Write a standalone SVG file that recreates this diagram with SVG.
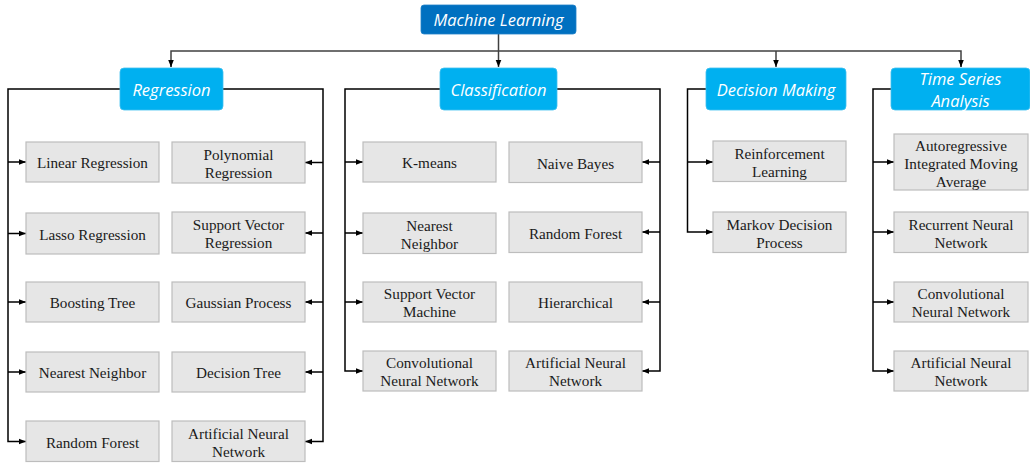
<svg xmlns="http://www.w3.org/2000/svg" width="1030" height="463" viewBox="0 0 1030 463">
<style>
.hd{fill:#00B0F0;stroke:#3FC0F0;stroke-width:0.8}
.root{fill:#0070C0;stroke:#1F80C8;stroke-width:0.8}
.ht{font-family:"Open Sans",sans-serif;font-style:italic;font-size:16.5px;fill:#fff;text-anchor:middle;dominant-baseline:central}
.bx{fill:#E6E6E6;stroke:#BDBDBD;stroke-width:1.2}
.bt{font-family:"Liberation Serif",serif;font-size:15.2px;fill:#1a1a1a;text-anchor:middle;dominant-baseline:central}
.ln{fill:none;stroke:#000;stroke-width:1.5}
.tl{fill:none;stroke:#404040;stroke-width:1.5}
</style>
<defs>
<marker id="ar" viewBox="0 0 10 10" refX="10" refY="5" markerWidth="7" markerHeight="7" markerUnits="userSpaceOnUse" orient="auto">
<path d="M0,1 L10,5 L0,9 z" fill="#000"/>
</marker>
</defs>
<rect width="1030" height="463" fill="#fff"/>
<g id="connectors">
<path class="tl" d="M498.5,34 V67" marker-end="url(#ar)"/>
<path class="tl" d="M171,67 V51 H961 V67" />
<path class="tl" d="M171,60 V67" marker-end="url(#ar)"/>
<path class="tl" d="M961,60 V67" marker-end="url(#ar)"/>
<path class="tl" d="M776,51 V67" marker-end="url(#ar)"/>
<path class="ln" d="M120,89 H8 V441.5 H26" marker-end="url(#ar)"/>
<path class="ln" d="M8,162 H26" marker-end="url(#ar)"/>
<path class="ln" d="M8,233.5 H26" marker-end="url(#ar)"/>
<path class="ln" d="M8,302 H26" marker-end="url(#ar)"/>
<path class="ln" d="M8,372 H26" marker-end="url(#ar)"/>
<path class="ln" d="M223,89 H323 V441.5 H305" marker-end="url(#ar)"/>
<path class="ln" d="M323,162.5 H305" marker-end="url(#ar)"/>
<path class="ln" d="M323,233 H305" marker-end="url(#ar)"/>
<path class="ln" d="M323,302 H305" marker-end="url(#ar)"/>
<path class="ln" d="M323,372 H305" marker-end="url(#ar)"/>
<path class="ln" d="M440,89 H345 V371 H363" marker-end="url(#ar)"/>
<path class="ln" d="M345,162 H363" marker-end="url(#ar)"/>
<path class="ln" d="M345,233 H363" marker-end="url(#ar)"/>
<path class="ln" d="M345,302 H363" marker-end="url(#ar)"/>
<path class="ln" d="M557,89 H660 V371 H642" marker-end="url(#ar)"/>
<path class="ln" d="M660,162 H642" marker-end="url(#ar)"/>
<path class="ln" d="M660,232 H642" marker-end="url(#ar)"/>
<path class="ln" d="M660,302 H642" marker-end="url(#ar)"/>
<path class="ln" d="M706,89 H687.5 V232 H713" marker-end="url(#ar)"/>
<path class="ln" d="M687.5,162 H713" marker-end="url(#ar)"/>
<path class="ln" d="M891,89 H873 V371 H894" marker-end="url(#ar)"/>
<path class="ln" d="M873,162 H894" marker-end="url(#ar)"/>
<path class="ln" d="M873,232 H894" marker-end="url(#ar)"/>
<path class="ln" d="M873,302 H894" marker-end="url(#ar)"/>
</g>
<g id="ml"><rect class="root" x="421" y="5" width="155" height="29" rx="3"/><text class="ht" x="498.5" y="19.5">Machine Learning</text></g>
<g id="regression"><rect class="hd" x="120" y="68" width="103" height="42" rx="4"/><text class="ht" x="171.5" y="89">Regression</text></g>
<g id="classification"><rect class="hd" x="440" y="68" width="117" height="42" rx="4"/><text class="ht" x="498.5" y="89">Classification</text></g>
<g id="decision"><rect class="hd" x="706" y="68" width="140" height="42" rx="4"/><text class="ht" x="776" y="89">Decision Making</text></g>
<g id="timeseries"><rect class="hd" x="891" y="68" width="139" height="42" rx="4"/><text class="ht" x="960.5" y="78">Time Series</text><text class="ht" x="960.5" y="100">Analysis</text></g>

<g id="r1"><rect class="bx" x="26" y="142" width="133" height="40"/><text class="bt" x="92.5" y="162.5">Linear Regression</text></g>
<g id="r2"><rect class="bx" x="172" y="142" width="133" height="41"/><text class="bt" x="238.5" y="154">Polynomial</text><text class="bt" x="238.5" y="172">Regression</text></g>
<g id="r3"><rect class="bx" x="26" y="213" width="133" height="41"/><text class="bt" x="92.5" y="234.5">Lasso Regression</text></g>
<g id="r4"><rect class="bx" x="172" y="212" width="133" height="41"/><text class="bt" x="238.5" y="224.5">Support Vector</text><text class="bt" x="238.5" y="242.5">Regression</text></g>
<g id="r5"><rect class="bx" x="26" y="282" width="133" height="40"/><text class="bt" x="92.5" y="302.5">Boosting Tree</text></g>
<g id="r6"><rect class="bx" x="172" y="282" width="133" height="40"/><text class="bt" x="238.5" y="302.5">Gaussian Process</text></g>
<g id="r7"><rect class="bx" x="26" y="352" width="133" height="40"/><text class="bt" x="92.5" y="372.5">Nearest Neighbor</text></g>
<g id="r8"><rect class="bx" x="172" y="352" width="133" height="40"/><text class="bt" x="238.5" y="372.5">Decision Tree</text></g>
<g id="r9"><rect class="bx" x="26" y="421" width="133" height="40.5"/><text class="bt" x="92.5" y="442">Random Forest</text></g>
<g id="r10"><rect class="bx" x="172" y="421" width="133" height="40.5"/><text class="bt" x="238.5" y="433">Artificial Neural</text><text class="bt" x="238.5" y="451">Network</text></g>

<g id="c1"><rect class="bx" x="363" y="142" width="133" height="40"/><text class="bt" x="429.5" y="162.5">K-means</text></g>
<g id="c2"><rect class="bx" x="509" y="142" width="133" height="40.5"/><text class="bt" x="575.5" y="163">Naive Bayes</text></g>
<g id="c3"><rect class="bx" x="363" y="213" width="133" height="40.5"/><text class="bt" x="429.5" y="225">Nearest</text><text class="bt" x="429.5" y="243">Neighbor</text></g>
<g id="c4"><rect class="bx" x="509" y="212" width="133" height="40.5"/><text class="bt" x="575.5" y="233">Random Forest</text></g>
<g id="c5"><rect class="bx" x="363" y="282" width="133" height="40"/><text class="bt" x="429.5" y="293.5">Support Vector</text><text class="bt" x="429.5" y="311.5">Machine</text></g>
<g id="c6"><rect class="bx" x="509" y="282" width="133" height="40"/><text class="bt" x="575.5" y="302.5">Hierarchical</text></g>
<g id="c7"><rect class="bx" x="363" y="351" width="133" height="40"/><text class="bt" x="429.5" y="362.5">Convolutional</text><text class="bt" x="429.5" y="380.5">Neural Network</text></g>
<g id="c8"><rect class="bx" x="509" y="351" width="133" height="40"/><text class="bt" x="575.5" y="362.5">Artificial Neural</text><text class="bt" x="575.5" y="380.5">Network</text></g>

<g id="d1"><rect class="bx" x="713" y="141" width="133" height="40.5"/><text class="bt" x="779.5" y="153">Reinforcement</text><text class="bt" x="779.5" y="171">Learning</text></g>
<g id="d2"><rect class="bx" x="713" y="212" width="133" height="40.5"/><text class="bt" x="779.5" y="224">Markov Decision</text><text class="bt" x="779.5" y="242">Process</text></g>

<g id="t1"><rect class="bx" x="894" y="134" width="134" height="56"/><text class="bt" x="961" y="145">Autoregressive</text><text class="bt" x="961" y="163">Integrated Moving</text><text class="bt" x="961" y="181">Average</text></g>
<g id="t2"><rect class="bx" x="894" y="212" width="134" height="40.5"/><text class="bt" x="961" y="224">Recurrent Neural</text><text class="bt" x="961" y="242">Network</text></g>
<g id="t3"><rect class="bx" x="894" y="282" width="134" height="40"/><text class="bt" x="961" y="293.5">Convolutional</text><text class="bt" x="961" y="311.5">Neural Network</text></g>
<g id="t4"><rect class="bx" x="894" y="351" width="134" height="40"/><text class="bt" x="961" y="362.5">Artificial Neural</text><text class="bt" x="961" y="380.5">Network</text></g>
</svg>
